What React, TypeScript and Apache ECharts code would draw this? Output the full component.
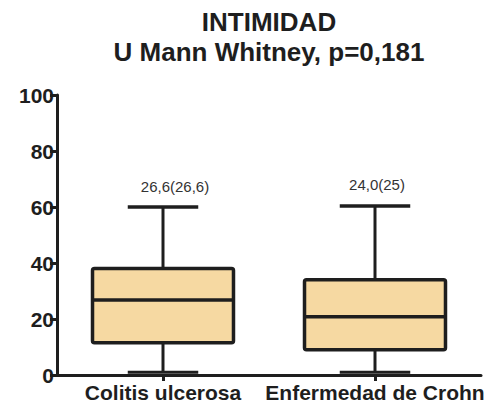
import React, { useEffect, useRef } from "react";
import * as echarts from "echarts";

const categories = ["Colitis ulcerosa", "Enfermedad de Crohn"];
const mins = [1, 1];
const q1s = [11.5, 9];
const medians = [26.8, 20.8];
const q3s = [38, 34];
const maxs = [60, 60.4];
const topLabels = ["26,6(26,6)", "24,0(25)"];
const yTicks = [0, 20, 40, 60, 80, 100];

const titleLine1 = "INTIMIDAD";
const titleLine2 = "U Mann Whitney, p=0,181";

const FONT = "'Liberation Sans', Arial, Helvetica, sans-serif";
const INK = "#1e1e1e";
const FILL = "#F6D9A2";
const labelDx = [12, 2];

export default function App() {
  const ref = useRef<HTMLDivElement>(null);
  useEffect(() => {
    document.body.style.margin = "0";
    const chart = echarts.init(ref.current!, null, { renderer: "svg" });
    const data = categories.map((_, i) => [i, mins[i], q1s[i], medians[i], q3s[i], maxs[i]]);
    chart.setOption({
      animation: false,
      backgroundColor: "#ffffff",
      graphic: [
        {
          type: "text",
          x: 269,
          y: 22,
          style: {
            text: titleLine1,
            font: `bold 26px ${FONT}`,
            fill: INK,
            textAlign: "center",
            textVerticalAlign: "middle",
          },
        },
        {
          type: "text",
          x: 269,
          y: 52,
          style: {
            text: titleLine2,
            font: `bold 26px ${FONT}`,
            fill: INK,
            textAlign: "center",
            textVerticalAlign: "middle",
          },
        },
      ],
      grid: { left: 57, right: 16, top: 95, bottom: 37, containLabel: false },
      xAxis: {
        type: "category",
        data: categories,
        axisLine: { show: true, lineStyle: { color: INK, width: 3 } },
        axisTick: { show: true, alignWithLabel: true, length: 6, lineStyle: { color: INK, width: 3 } },
        axisLabel: {
          color: INK,
          fontFamily: FONT,
          fontWeight: "bold",
          fontSize: 21,
          margin: 7,
          interval: 0,
          hideOverlap: false,
        },
        splitLine: { show: false },
      },
      yAxis: {
        type: "value",
        min: yTicks[0],
        max: yTicks[yTicks.length - 1],
        interval: 20,
        axisLine: { show: true, lineStyle: { color: INK, width: 3 } },
        axisTick: { show: true, length: 7, lineStyle: { color: INK, width: 3 } },
        axisLabel: { color: INK, fontFamily: FONT, fontWeight: "bold", fontSize: 21, margin: 3 },
        splitLine: { show: false },
      },
      series: [
        {
          type: "custom",
          clip: false,
          data,
          encode: { x: 0, y: [1, 2, 3, 4, 5] },
          renderItem: (params: any, api: any) => {
            const i = api.value(0);
            const pMin = api.coord([i, api.value(1)]);
            const pQ1 = api.coord([i, api.value(2)]);
            const pMed = api.coord([i, api.value(3)]);
            const pQ3 = api.coord([i, api.value(4)]);
            const pMax = api.coord([i, api.value(5)]);
            const cx = pMed[0];
            const bw = api.size([1, 0])[0] * 0.665;
            const cap = bw * 0.5;
            const ls = { stroke: INK, lineWidth: 3 };
            return {
              type: "group",
              children: [
                { type: "line", shape: { x1: cx, y1: pMax[1], x2: cx, y2: pQ3[1] }, style: ls },
                { type: "line", shape: { x1: cx, y1: pQ1[1], x2: cx, y2: pMin[1] }, style: ls },
                { type: "line", shape: { x1: cx - cap / 2, y1: pMax[1], x2: cx + cap / 2, y2: pMax[1] }, style: { ...ls, lineWidth: 3.5 } },
                { type: "line", shape: { x1: cx - cap / 2, y1: pMin[1], x2: cx + cap / 2, y2: pMin[1] }, style: ls },
                {
                  type: "rect",
                  shape: { x: cx - bw / 2, y: pQ3[1], width: bw, height: pQ1[1] - pQ3[1], r: 2 },
                  style: { fill: FILL, stroke: INK, lineWidth: 3.5 },
                },
                { type: "line", shape: { x1: cx - bw / 2, y1: pMed[1], x2: cx + bw / 2, y2: pMed[1] }, style: { ...ls, lineWidth: 3.5 } },
                {
                  type: "text",
                  x: cx + labelDx[params.dataIndex],
                  y: pMax[1] - 21,
                  style: {
                    text: topLabels[params.dataIndex],
                    font: `15px ${FONT}`,
                    fill: "#333333",
                    textAlign: "center",
                    textVerticalAlign: "middle",
                  },
                },
              ],
            };
          },
        },
      ],
    });
    return () => chart.dispose();
  }, []);
  return <div ref={ref} style={{ position: "fixed", left: 0, top: 0, width: 497, height: 412 }} />;
}
